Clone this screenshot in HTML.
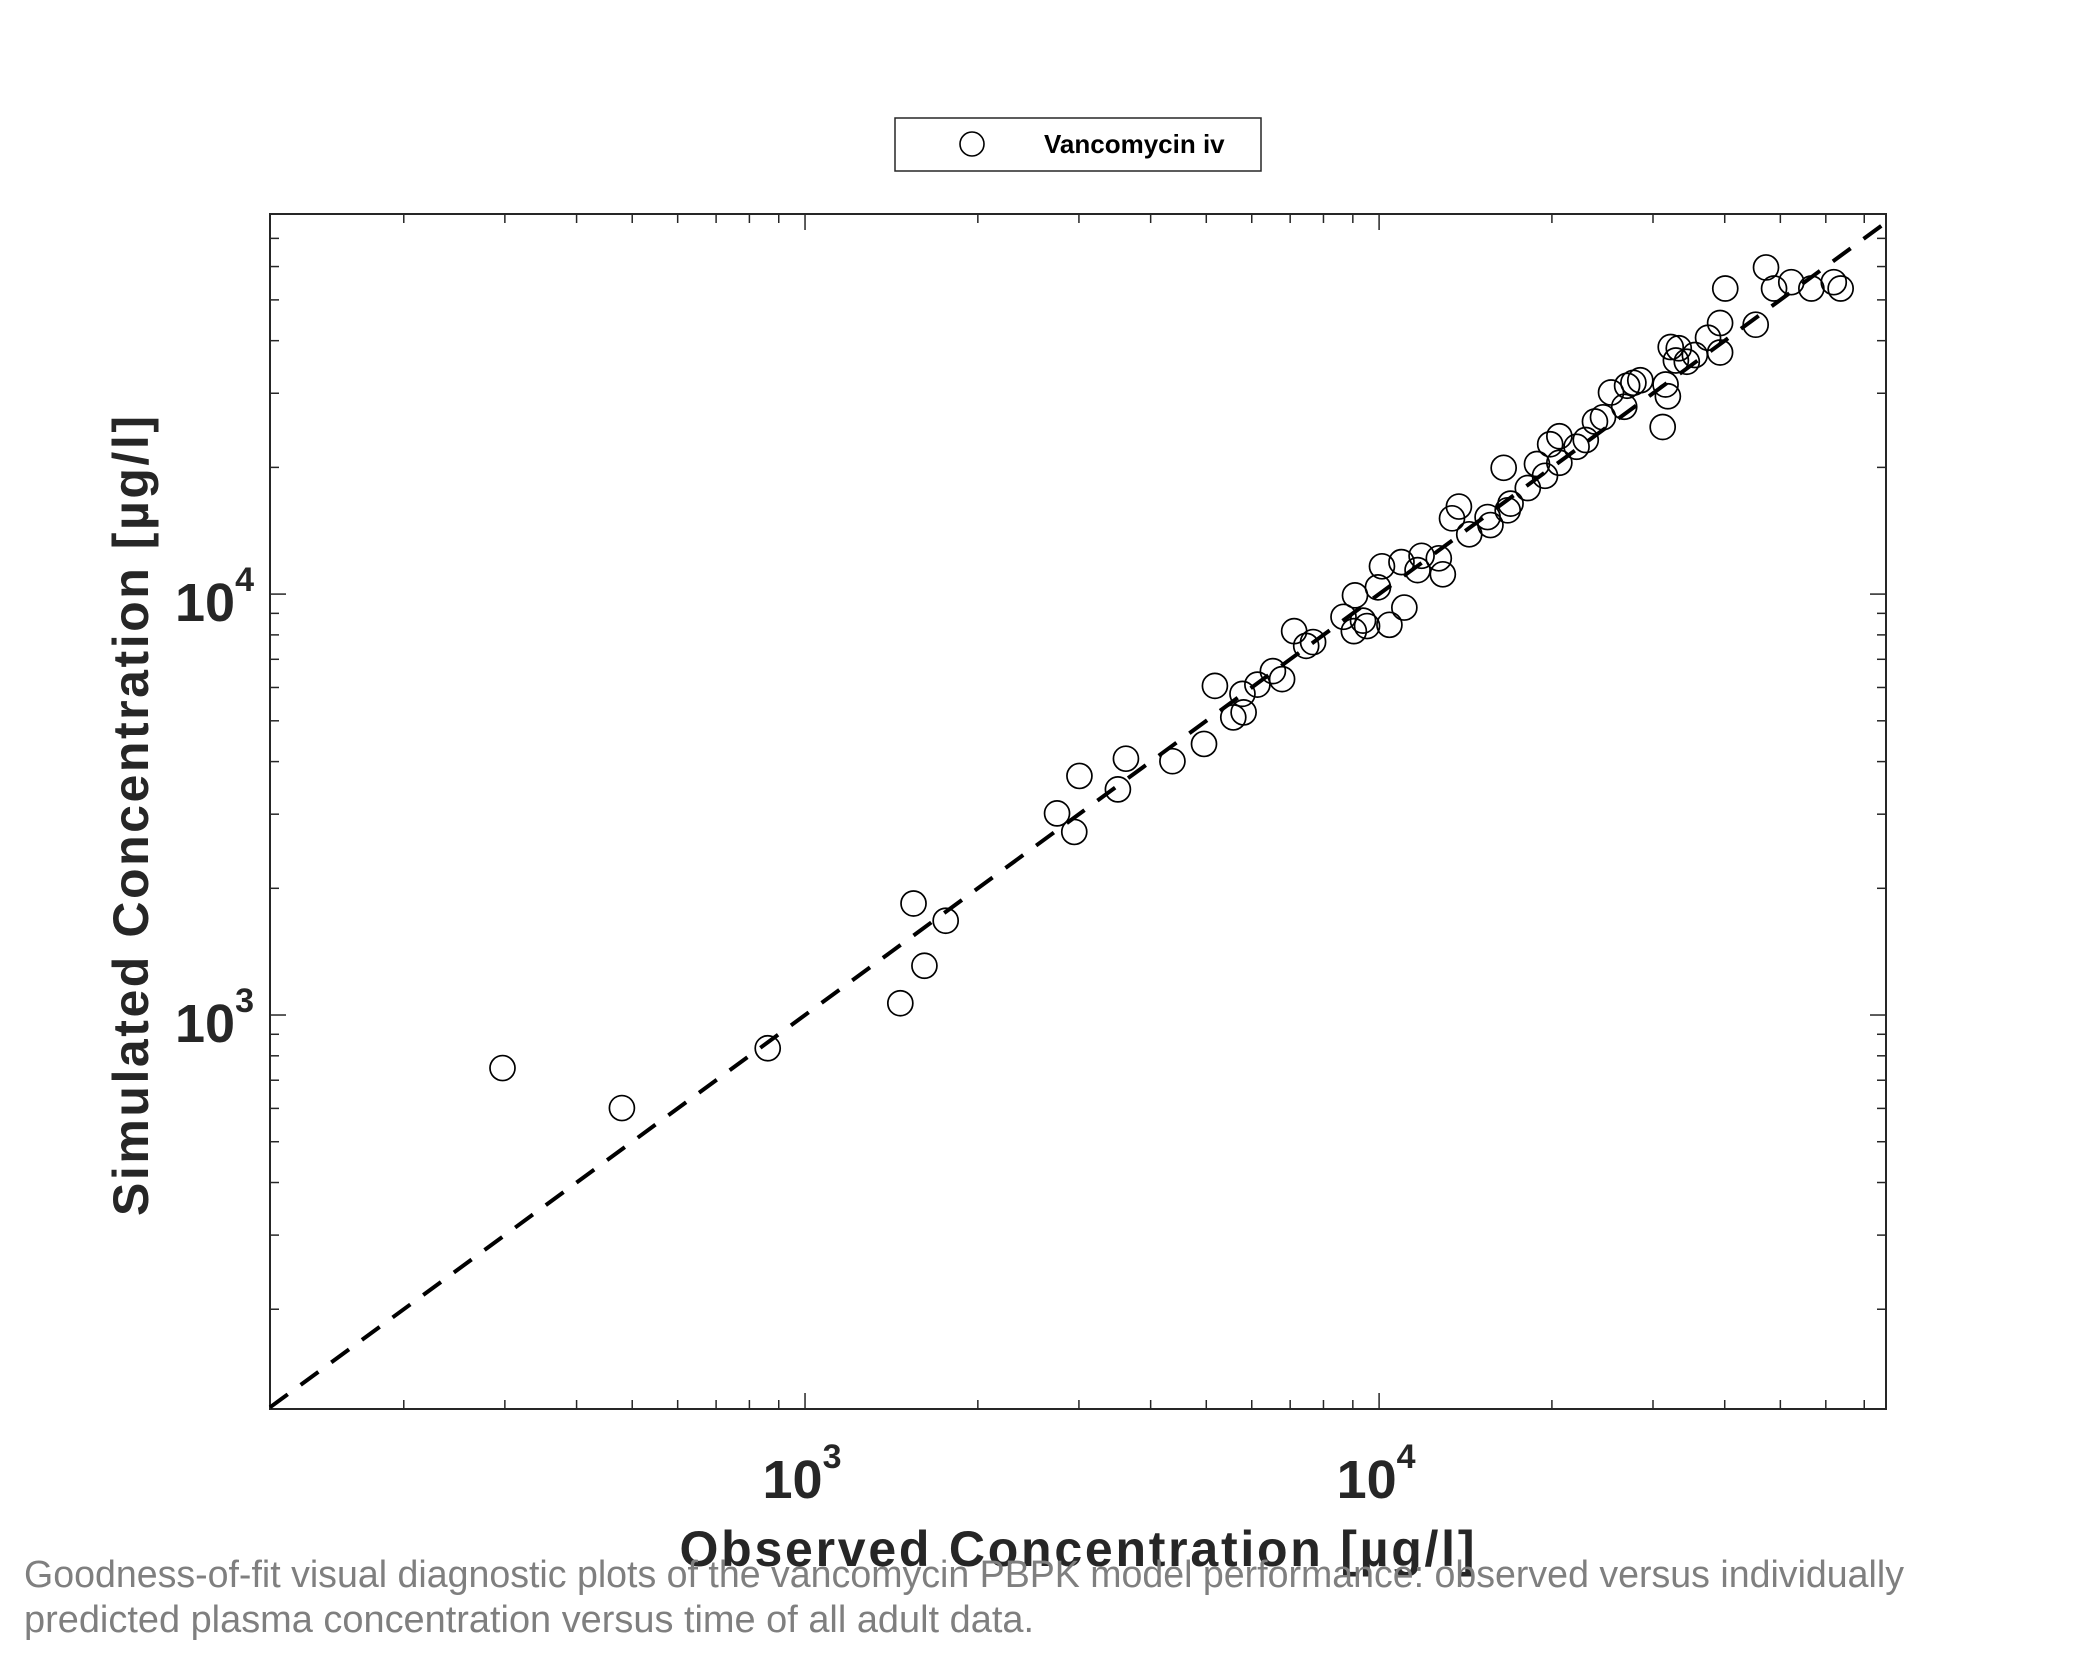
<!DOCTYPE html>
<html><head><meta charset="utf-8"><style>
html,body{margin:0;padding:0;background:#fff;}
svg{display:block;}
text{font-family:"Liberation Sans",Arial,sans-serif;}
</style></head>
<body>
<svg id="chart" width="2083" height="1667" viewBox="0 0 2083 1667" xmlns="http://www.w3.org/2000/svg">
  <rect x="0" y="0" width="2083" height="1667" fill="#fff"/>
  <g id="legend">
    <rect x="895" y="118" width="366" height="53" fill="#fff" stroke="#262626" stroke-width="1.5"/>
    <circle cx="972" cy="144" r="12" fill="none" stroke="#000" stroke-width="1.6"/>
    <text x="1044" y="153" font-size="26" font-weight="bold" fill="#000">Vancomycin iv</text>
  </g>
  <g id="plot"></g>
  <text x="1077" y="1566" text-anchor="middle" font-size="50" font-weight="bold" fill="#262626" textLength="795">Observed Concentration [µg/l]</text>
  <text transform="translate(148,816) rotate(-90)" text-anchor="middle" font-size="50" font-weight="bold" fill="#262626" textLength="800">Simulated Concentration [µg/l]</text>
  <text x="24" y="1587" font-size="38" fill="#7f7f7f" textLength="1880" lengthAdjust="spacingAndGlyphs">Goodness-of-fit visual diagnostic plots of the vancomycin PBPK model performance: observed versus individually</text>
  <text x="24" y="1632" font-size="38" fill="#7f7f7f" textLength="1010" lengthAdjust="spacingAndGlyphs">predicted plasma concentration versus time of all adult data.</text>
</svg>
<script>
// Data (log10 of concentrations, µg/l)
const obsLog10 = [2.473,2.681,2.935,3.166,3.189,3.208,3.245,3.439,3.469,3.478,3.545,3.559,3.640,3.695,3.714,3.746,3.762,3.764,3.788,3.815,3.831,3.852,3.873,3.885,3.938,3.956,3.958,3.972,3.979,3.998,4.005,4.018,4.039,4.044,4.067,4.074,4.104,4.111,4.127,4.139,4.157,4.189,4.194,4.217,4.224,4.229,4.259,4.275,4.289,4.298,4.314,4.314,4.344,4.360,4.376,4.390,4.404,4.427,4.432,4.443,4.455,4.494,4.499,4.503,4.508,4.517,4.522,4.536,4.550,4.573,4.594,4.594,4.603,4.656,4.674,4.688,4.718,4.753,4.792,4.804];
const simLog10 = [2.874,2.779,2.921,3.028,3.265,3.117,3.224,3.479,3.435,3.568,3.536,3.609,3.603,3.644,3.782,3.707,3.763,3.719,3.785,3.817,3.798,3.912,3.877,3.886,3.946,3.912,3.997,3.937,3.924,4.016,4.066,3.927,4.076,3.968,4.057,4.091,4.085,4.047,4.180,4.208,4.142,4.183,4.164,4.300,4.199,4.215,4.252,4.309,4.281,4.356,4.375,4.312,4.350,4.366,4.410,4.420,4.479,4.445,4.495,4.502,4.508,4.397,4.498,4.470,4.587,4.555,4.584,4.552,4.568,4.609,4.574,4.644,4.726,4.640,4.776,4.726,4.741,4.726,4.741,4.726];
const xMajorTicks = [3, 4];
const yMajorTicks = [3, 4];
const xTickLabels = ["3", "4"];
const yTickLabels = ["3", "4"];
const xDomain = [2.068, 4.883];
const yDomain = [2.064, 4.903];

const NS = "http://www.w3.org/2000/svg";
const L = 270, R = 1886, T = 214, B = 1409;
const sx = v => L + (v - xDomain[0]) / (xDomain[1] - xDomain[0]) * (R - L);
const sy = v => B - (v - yDomain[0]) / (yDomain[1] - yDomain[0]) * (B - T);
const g = document.getElementById('plot');
function mk(tag, attrs) { const e = document.createElementNS(NS, tag); for (const k in attrs) e.setAttribute(k, attrs[k]); g.appendChild(e); return e; }

const ax = "#262626";
for (let d = 2; d <= 4; d++) {
  for (let m = 1; m <= 9; m++) {
    const v = d + Math.log10(m);
    const major = m === 1;
    const len = major ? 16 : 9;
    if (v >= xDomain[0] && v <= xDomain[1]) {
      const x = sx(v);
      let t = mk('line', {x1:x, x2:x, y1:B, y2:B-len, stroke:ax, 'stroke-width':1.5});
      
      
      t = mk('line', {x1:x, x2:x, y1:T, y2:T+len, stroke:ax, 'stroke-width':1.5});
      
      
    }
    if (v >= yDomain[0] && v <= yDomain[1]) {
      const y = sy(v);
      let t = mk('line', {x1:L, x2:L+len, y1:y, y2:y, stroke:ax, 'stroke-width':1.5});
      
      
      t = mk('line', {x1:R, x2:R-len, y1:y, y2:y, stroke:ax, 'stroke-width':1.5});
      
      
    }
  }
}
const fr = mk('rect', {x:L, y:T, width:R-L, height:B-T, fill:'none', stroke:ax, 'stroke-width':2});



xMajorTicks.forEach((v, i) => {
  const t = mk('text', {x: sx(v) - 3, y: 1498, 'text-anchor':'middle', 'font-size':54, 'font-weight':'bold', fill:ax});
  
  
  t.textContent = '10';
  const s = document.createElementNS(NS, 'tspan');
  s.setAttribute('dy', '-30'); s.setAttribute('font-size', '34');
  s.textContent = xTickLabels[i];
  t.appendChild(s);
});
yMajorTicks.forEach((v, i) => {
  const t = mk('text', {x: 175, y: sy(v) + 27, 'font-size':54, 'font-weight':'bold', fill:ax});
  
  
  t.textContent = '10';
  const s = document.createElementNS(NS, 'tspan');
  s.setAttribute('dy', '-30'); s.setAttribute('font-size', '34');
  s.textContent = yTickLabels[i];
  t.appendChild(s);
});

const lo = Math.max(xDomain[0], yDomain[0]), hi = Math.min(xDomain[1], yDomain[1]);
const idl = mk('line', {x1:sx(lo), y1:sy(lo), x2:sx(hi), y2:sy(hi), stroke:'#000', 'stroke-width':4, 'stroke-dasharray':'22 16'});



obsLog10.forEach((ov, i) => {
  const c = mk('circle', {cx: sx(ov), cy: sy(simLog10[i]), r: 12.5, fill:'none', stroke:'#000', 'stroke-width':1.7});
  
  
});
</script>
</body></html>
